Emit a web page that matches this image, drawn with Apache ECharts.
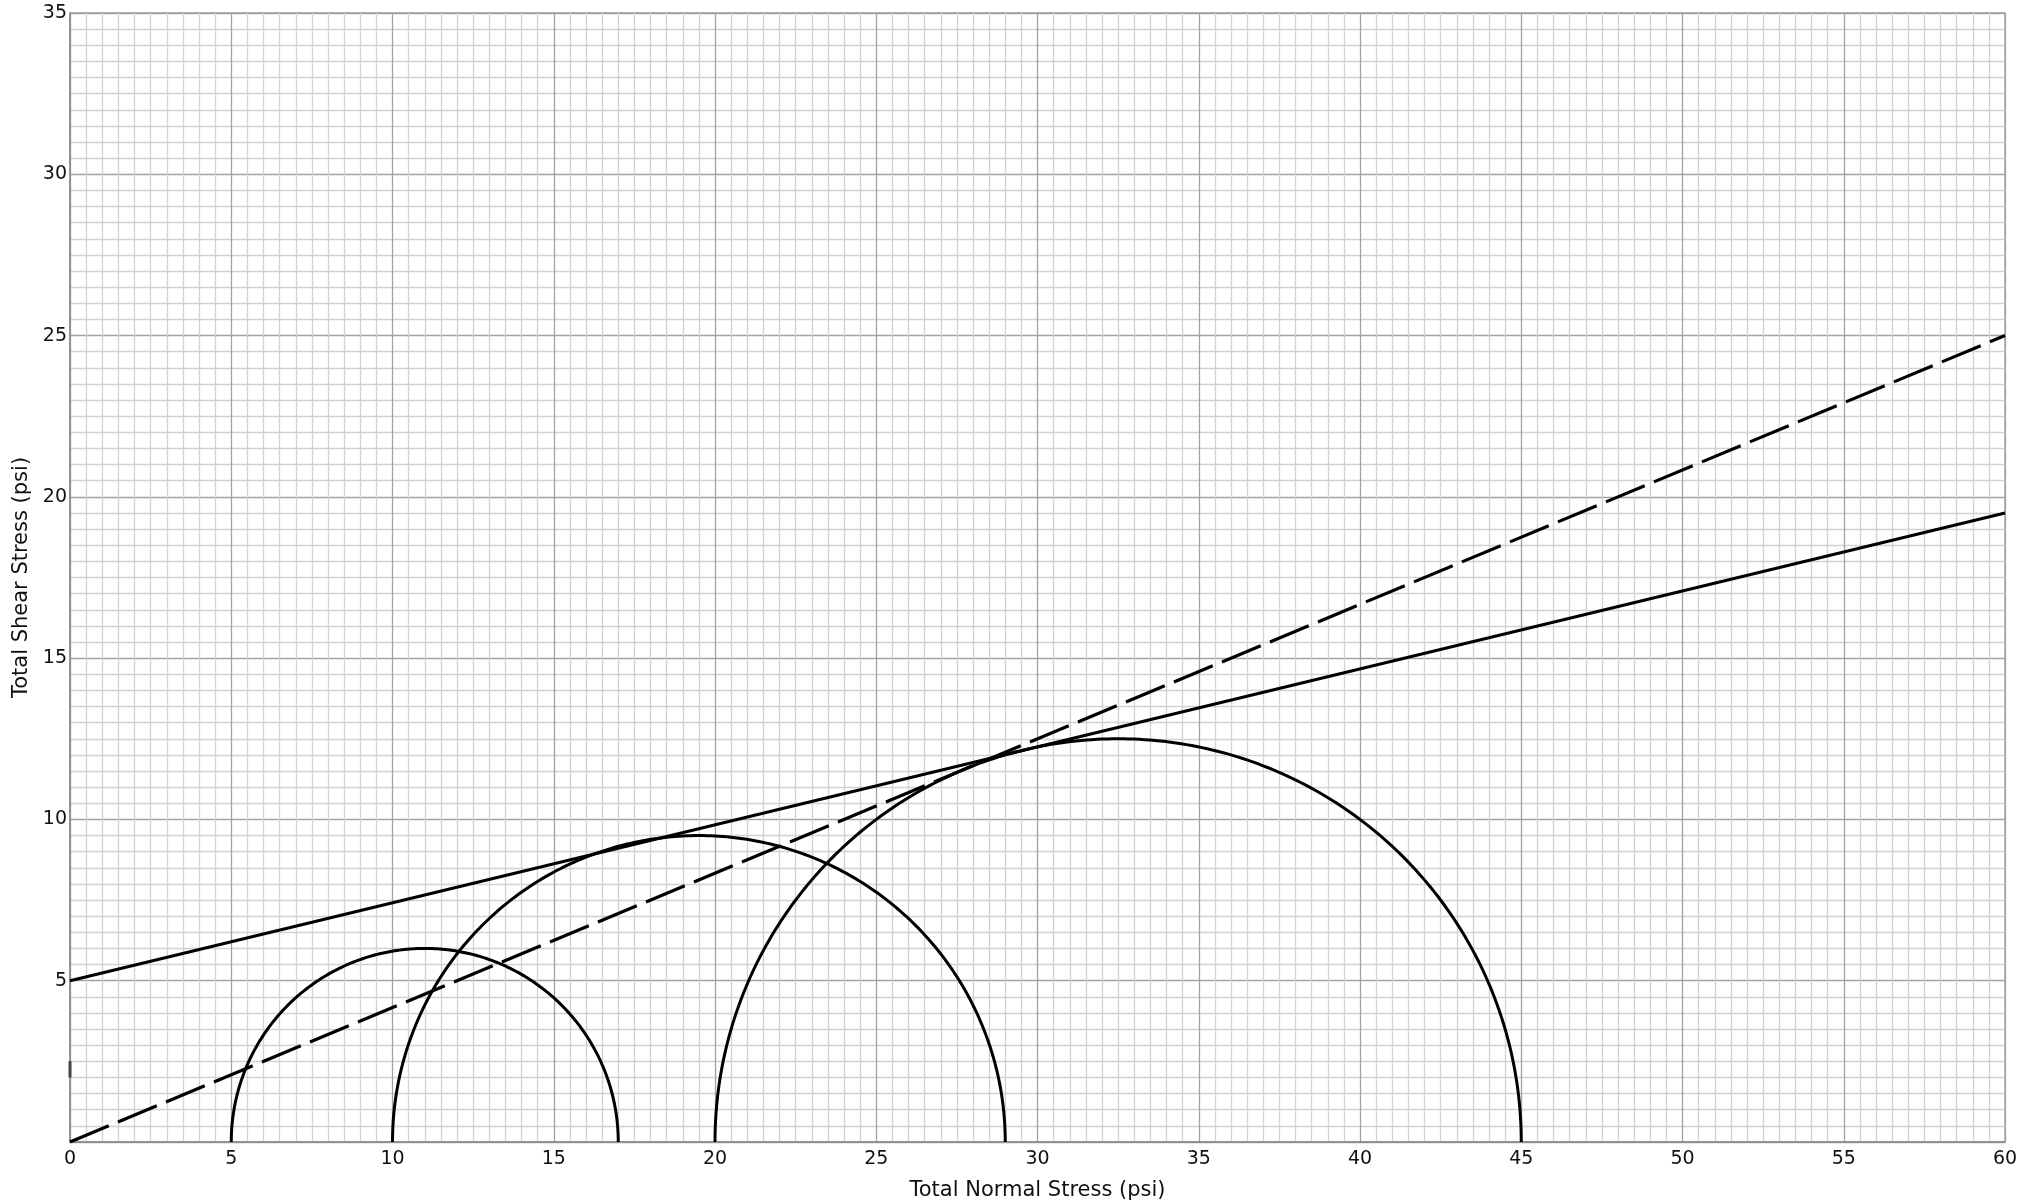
<!DOCTYPE html>
<html><head><meta charset="utf-8">
<script src="https://cdn.jsdelivr.net/npm/echarts@6/dist/echarts.min.js"></script>
<style>html,body{margin:0;padding:0;background:#fff}#c{width:2041px;height:1202px}</style>
</head><body><div id="c"></div>
<script>
// Mohr circles: minor and major principal stresses (psi)
const sigma3 = [5, 10, 20];
const sigma1 = [17, 29, 45];
// Failure envelopes: [x, y] endpoints
const envelopeSolidX = [0, 60];
const envelopeSolidY = [5, 19.5];
const envelopeDashedX = [0, 60];
const envelopeDashedY = [0, 25];
// small mark on the y axis
const markX = [0, 0];
const markY = [2, 2.5];
const xTicks = [0,5,10,15,20,25,30,35,40,45,50,55,60];
const yTicks = [5,10,15,20,25,30,35];

const font = 'DejaVu Sans';
const chart = echarts.init(document.getElementById('c'));
const circleData = sigma3.map((s3, i) => [s3, sigma1[i]]);

function axisCommon(){
  return {
    type: 'value',
    axisLine: {show: true, lineStyle: {color: '#8a8a8a', width: 1.5}},
    axisTick: {show: false},
    minorTick: {show: false, splitNumber: 10},
    splitLine: {show: true, lineStyle: {color: '#a2a2a2', width: 1.3}},
    minorSplitLine: {show: true, lineStyle: {color: '#d2d2d2', width: 1.3}},
    nameTextStyle: {color: '#111', fontFamily: font, fontSize: 21},
    nameLocation: 'middle'
  };
}

chart.setOption({
  animation: false,
  backgroundColor: '#fff',
  grid: {left: 70, right: 36, top: 13, bottom: 60, show: true, borderColor: '#999', borderWidth: 1.3,
         containLabel: false, outerBoundsMode: 'none'},
  xAxis: Object.assign(axisCommon(), {
    min: 0, max: 60, interval: 5,
    name: 'Total Normal Stress (psi)', nameGap: 38,
    axisLabel: {color: '#111', fontFamily: font, fontSize: 19, margin: 8,
      formatter: v => xTicks.includes(v) ? String(v) : ''}
  }),
  yAxis: Object.assign(axisCommon(), {
    min: 0, max: 35, interval: 5,
    name: 'Total Shear Stress (psi)', nameGap: 37,
    axisLabel: {color: '#111', fontFamily: font, fontSize: 19, margin: 3,
      formatter: v => yTicks.includes(v) ? String(v) : ''}
  }),
  series: [
    {
      type: 'custom',
      coordinateSystem: 'cartesian2d',
      data: circleData,
      renderItem: function(params, api){
        const s3 = api.value(0), s1 = api.value(1);
        const c = (s3 + s1) / 2, r = (s1 - s3) / 2;
        const pts = [];
        const n = 240;
        for (let k = 0; k <= n; k++){
          const t = Math.PI * k / n;
          pts.push(api.coord([c - r * Math.cos(t), r * Math.sin(t)]));
        }
        return {type: 'polyline', shape: {points: pts},
          style: {stroke: '#000', lineWidth: 3, fill: null}};
      },
      z: 5
    },
    {
      type: 'line', symbol: 'none',
      data: envelopeSolidX.map((x, i) => [x, envelopeSolidY[i]]),
      lineStyle: {color: '#000', width: 3}, z: 6
    },
    {
      type: 'line', symbol: 'none',
      data: envelopeDashedX.map((x, i) => [x, envelopeDashedY[i]]),
      lineStyle: {color: '#000', width: 3.2, type: [42, 10]}, z: 6
    },
    {
      type: 'line', symbol: 'none',
      data: markX.map((x, i) => [x, markY[i]]),
      lineStyle: {color: '#444', width: 3}, z: 7
    }
  ]
});
</script></body></html>
